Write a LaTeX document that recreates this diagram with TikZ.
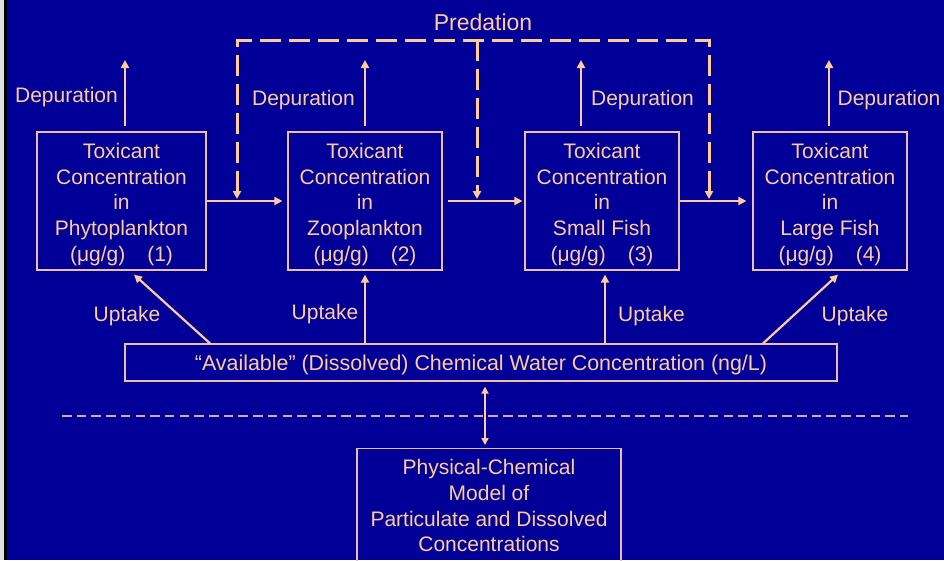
\documentclass[tikz,border=0pt]{standalone}
\usepackage{fontspec}
\setmainfont{Liberation Sans}
\usetikzlibrary{arrows.meta}
\definecolor{navy}{RGB}{0,0,153}
\definecolor{peach}{RGB}{255,204,153}
\definecolor{rim}{RGB}{235,192,165}
\definecolor{rulecol}{RGB}{210,172,172}
% invisible strut that lowers the text block inside a box
\newcommand{\lowerstrut}[1]{\rule{0pt}{#1}}
\begin{document}
\begin{tikzpicture}[x=1pt,y=-1pt,
  every node/.style={text=peach,font=\fontsize{21}{25.7}\selectfont},
  pool/.style={draw=rim,line width=1.2pt,inner sep=0pt,align=center,minimum height=138pt},
  tip/.style={-{Triangle[length=8pt,width=8pt]}},
  flow/.style={draw=peach,line width=2.2pt,tip},
  pred/.style={draw=peach,line width=3pt,dash pattern=on 21pt off 8pt},
  lbl/.style={inner sep=0pt}]
\useasboundingbox (0,0) rectangle (944,560);
\clip (0,0) rectangle (944,560);
% background and left edge strip
\fill[navy] (0,0) rectangle (944,560);
\fill[black!12] (0,0) rectangle (4,560);
\fill[black] (4,0) rectangle (7,560);

% compartments of the food chain
\node[pool,minimum width=169pt] (p1) at (121.5,201) {\lowerstrut{22pt}Toxicant\\Concentration\\in\\Phytoplankton\\(μg/g)\hspace{22pt}(1)};
\node[pool,minimum width=154pt] (p2) at (365,201) {\lowerstrut{22pt}Toxicant\\Concentration\\in\\Zooplankton\\(μg/g)\hspace{22pt}(2)};
\node[pool,minimum width=154pt] (p3) at (602,201) {\lowerstrut{22pt}Toxicant\\Concentration\\in\\Small Fish\\(μg/g)\hspace{22pt}(3)};
\node[pool,minimum width=154pt] (p4) at (830,201) {\lowerstrut{22pt}Toxicant\\Concentration\\in\\Large Fish\\(μg/g)\hspace{22pt}(4)};

% dissolved water concentration and the physical-chemical model
\node[draw=rim,line width=1.2pt,inner sep=0pt,minimum width=712pt,minimum height=37pt,font=\fontsize{21.4}{25.7}\selectfont] (water) at (481,362.5)
  {\lowerstrut{21pt}“Available” (Dissolved) Chemical Water Concentration (ng/L)};
\node[draw=rim,line width=1.2pt,anchor=north,align=center,minimum width=264pt,inner xsep=0pt,inner ysep=11pt] (model) at (489,448)
  {Physical-Chemical\\Model of\\Particulate and Dissolved\\Concentrations};

% depuration losses
\coordinate (d1) at (125,60);
\coordinate (d2) at (365,60);
\coordinate (d3) at (581,60);
\coordinate (d4) at (829,60);
\draw[flow] ([shift={(3.5,-5)}]p1.north) -- (d1);
\draw[flow] ([shift={(0,-5)}]p2.north) -- (d2);
\draw[flow] ([shift={(-21,-5)}]p3.north) -- (d3);
\draw[flow] ([shift={(-1,-5)}]p4.north) -- (d4);
\node[lbl] (dl1) at (66.5,97) {Depuration};
\node[lbl] (dl2) at (303.5,100) {Depuration};
\node[lbl] (dl3) at (642.5,100) {Depuration};
\node[lbl] (dl4) at (889,100) {Depuration};

% transfer along the chain
\draw[flow] (p1.east) -- ([shift={(-5,0)}]p2.west);
\draw[flow] ([shift={(5,0)}]p2.east) -- ([shift={(-2,0)}]p3.west);
\draw[flow] (p3.east) -- ([shift={(-6,0)}]p4.west);

% predation links
\coordinate (j1) at (237,199);
\coordinate (j2) at (477,199);
\coordinate (j3) at (709,199);
\coordinate (t1) at (237,40);
\coordinate (t2) at (477,40);
\coordinate (t3) at (709,40);
\draw[pred,{Triangle[length=8pt,width=8pt]}-{Triangle[length=8pt,width=8pt]}] (j1) -- (t1) -- (t3) -- (j3);
\draw[pred,tip] (t2) -- (j2);
\node[lbl,font=\fontsize{23}{27}\selectfont] (predlbl) at (483,22.5) {Predation};

% uptake from the water
\draw[flow] ([shift={(-271,0)}]water.north) -- ([shift={(12.5,4)}]p1.south);
\draw[flow] ([shift={(-116,0)}]water.north) -- ([shift={(0,4)}]p2.south);
\draw[flow] ([shift={(124,0)}]water.north) -- ([shift={(3,4)}]p3.south);
\draw[flow] ([shift={(282,0)}]water.north) -- ([shift={(8,4)}]p4.south);
\node[lbl] (ul1) at (127,316) {Uptake};
\node[lbl] (ul2) at (325,314) {Uptake};
\node[lbl] (ul3) at (651.5,316) {Uptake};
\node[lbl] (ul4) at (855,316) {Uptake};

% boundary between food chain and physical-chemical model
\coordinate (r1) at (62,416);
\coordinate (r2) at (908,416);
\draw[rulecol,line width=1.5pt,dash pattern=on 9.5pt off 5.2pt] (r1) -- (r2);
\draw[peach,line width=2pt,{Triangle[length=7pt,width=7pt]}-{Triangle[length=7pt,width=7pt]}]
  ([shift={(4,5)}]water.south) -- ([shift={(-4,-3)}]model.north);
\end{tikzpicture}
\end{document}
